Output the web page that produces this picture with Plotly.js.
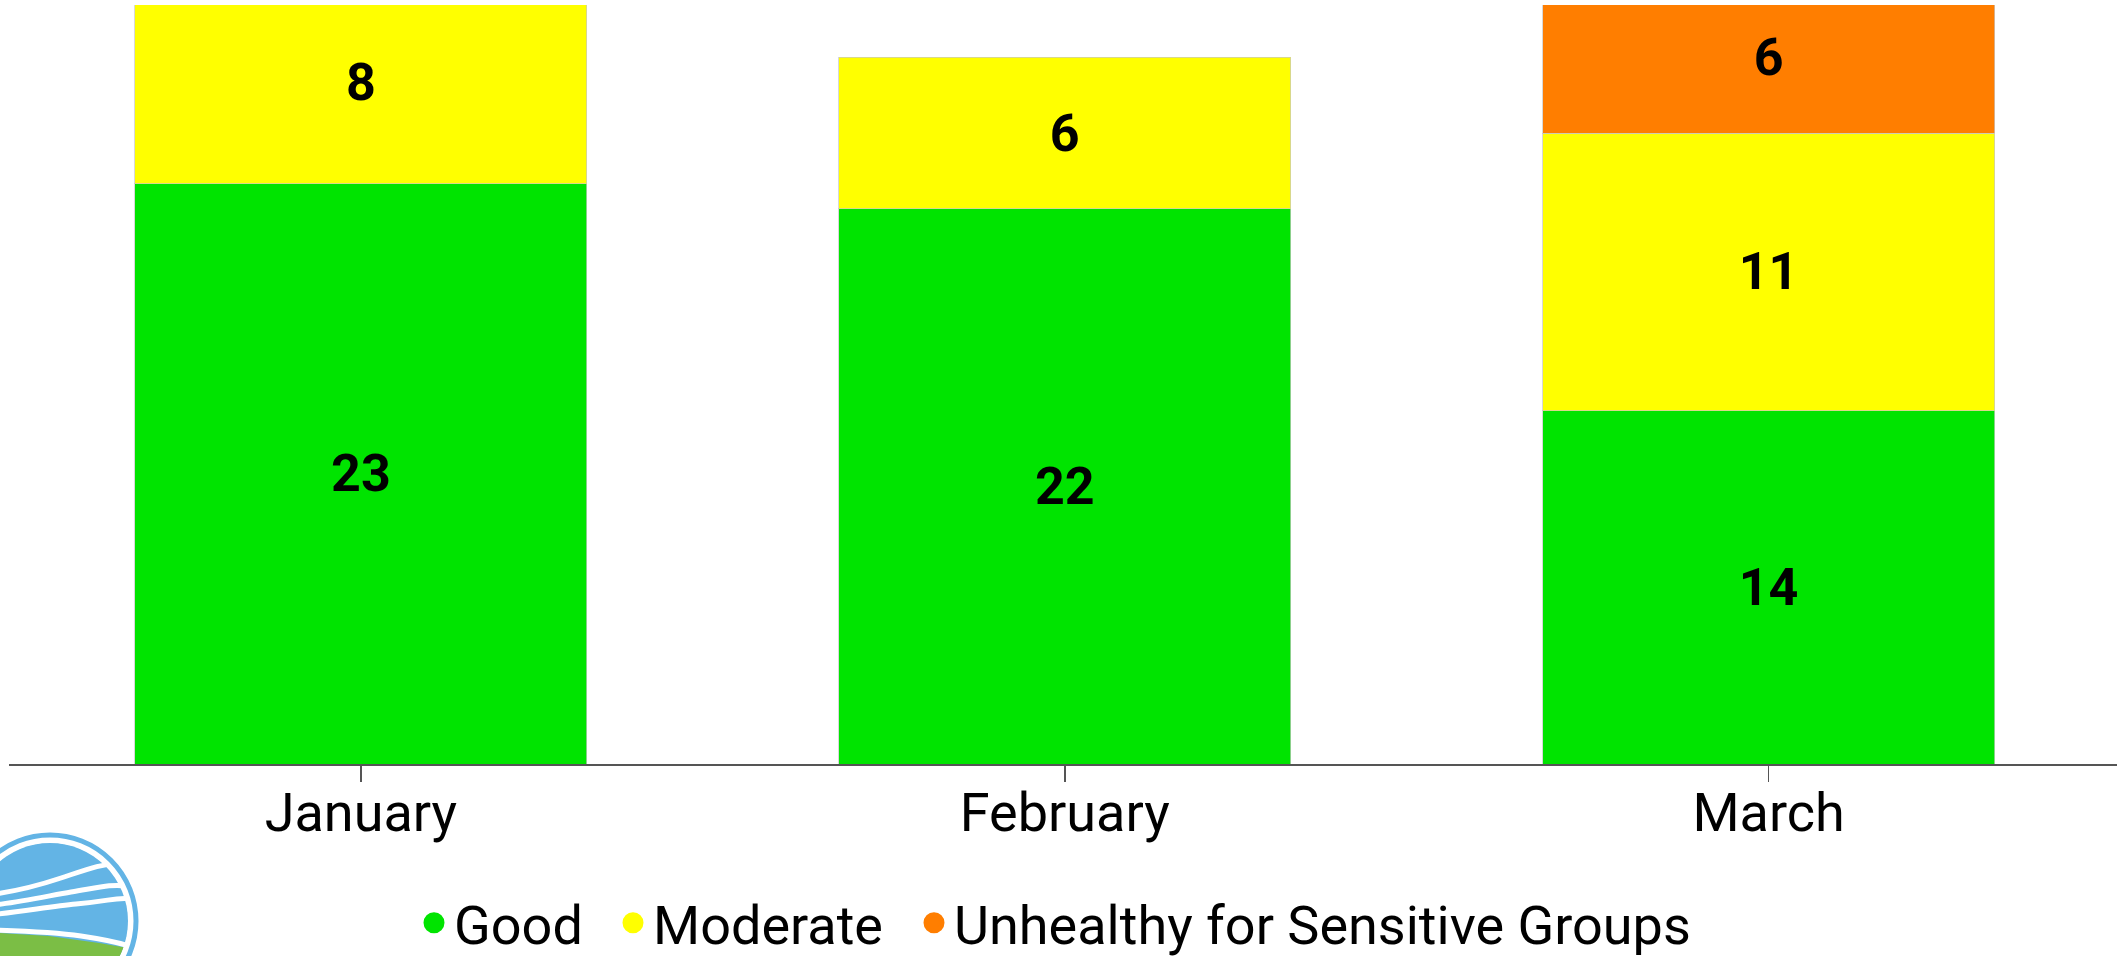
<!DOCTYPE html>
<html>
<head>
<meta charset="utf-8">
<script src="https://cdn.plot.ly/plotly-3.0.1.min.js"></script>
<style>
  html, body { margin: 0; padding: 0; background: #fff; overflow: hidden; }
  #chart { width: 2117px; height: 956px; }
</style>
</head>
<body>
<div id="chart"></div>
<script>
// ---- data ----
const months = ['January', 'February', 'March'];
const goodDays = [23, 22, 14];
const moderateDays = [8, 6, 11];
const usgDays = [null, null, 6];
const seriesNames = ['Good', 'Moderate', 'Unhealthy for Sensitive Groups'];
const seriesColors = ['#00E400', '#FFFF00', '#FF7E00'];

const seriesValues = [goodDays, moderateDays, usgDays];
const legendIds = ['legend', 'legend2', 'legend3'];

const traces = [];
seriesValues.forEach(function (vals, i) {
  traces.push({
    type: 'bar',
    x: months,
    y: vals,
    name: seriesNames[i],
    text: vals.map(function (v) { return v == null ? '' : String(v); }),
    textposition: 'inside',
    insidetextanchor: 'middle',
    constraintext: 'none',
    textangle: 0,
    textfont: { family: 'Roboto', size: 52, color: '#000', weight: 700 },
    marker: { color: seriesColors[i], line: { color: 'rgba(200,200,200,0.7)', width: 1 } },
    showlegend: false,
    hoverinfo: 'skip'
  });
});
// legend entries with round markers, one legend box per entry
seriesNames.forEach(function (n, i) {
  traces.push({
    type: 'scatter',
    mode: 'markers',
    x: [null],
    y: [null],
    name: n,
    legend: legendIds[i],
    marker: { color: seriesColors[i], size: 16, symbol: 'circle', line: { color: seriesColors[i], width: 5 } },
    showlegend: true,
    hoverinfo: 'skip'
  });
});

// ---- logo (decorative, drawn with pixel-sized shapes anchored at plot bottom-left) ----
const ML = 9;
const LB = '#63B4E5', LG = '#7BBE45';
function circlePts(cx, cy, r, a0, a1, n) {
  const pts = [];
  for (let k = 0; k <= n; k++) {
    const a = (a0 + (a1 - a0) * k / n) * Math.PI / 180;
    pts.push((cx + r * Math.cos(a)).toFixed(1) + ',' + (cy + r * Math.sin(a)).toFixed(1));
  }
  return pts;
}
const cx = 50 - ML, cy = -157;
function pshape(o) {
  return Object.assign({
    xref: 'paper', yref: 'paper', xsizemode: 'pixel', ysizemode: 'pixel',
    xanchor: 0, yanchor: 0, layer: 'above'
  }, o);
}
const dx = cx - 39;
function shiftPath(p) {
  return p.replace(/(-?\d+(?:\.\d+)?),(-?\d+(?:\.\d+)?)/g, function (m, a, b) {
    return (parseFloat(a) + dx) + ',' + b;
  });
}
const greenPath = 'M -60,-166 L -10,-169 L 40,-172 L 90,-179 L 113,-183 L ' +
  circlePts(cx, cy, 78, -19.6, -200, 40).join(' L ') + ' Z';
const shapes = [
  pshape({ type: 'circle', x0: cx - 78, x1: cx + 78, y0: cy - 78, y1: cy + 78, fillcolor: LB, line: { width: 0 } }),
  pshape({ type: 'path', path: greenPath, fillcolor: LG, line: { width: 0 } }),
  pshape({ type: 'path', path: shiftPath('M -60,-165 C -20,-166 30,-166 70,-172 S 110,-180 125,-184'), line: { color: '#fff', width: 5 } }),
  pshape({ type: 'path', path: shiftPath('M -60,-132 C -20,-134 20,-124 50,-114 S 90,-100 106,-100'), line: { color: '#fff', width: 5 } }),
  pshape({ type: 'path', path: shiftPath('M -60,-143 C -20,-145 30,-133 60,-128 S 100,-120 116,-122'), line: { color: '#fff', width: 5 } }),
  pshape({ type: 'path', path: shiftPath('M -60,-152 C -20,-154 30,-143 65,-140 S 105,-133 120,-135'), line: { color: '#fff', width: 5 } }),
  pshape({ type: 'circle', x0: cx - 81, x1: cx + 81, y0: cy - 81, y1: cy + 81, line: { color: '#fff', width: 5 } }),
  pshape({ type: 'circle', x0: cx - 86, x1: cx + 86, y0: cy - 86, y1: cy + 86, line: { color: LB, width: 5 } })
];

const plotW = 2117 - ML;
function legendBox(markerCenterPx) {
  return {
    orientation: 'h',
    x: (markerCenterPx - 20 - ML) / plotW,
    xanchor: 'left',
    y: -0.265,
    yanchor: 'bottom',
    traceorder: 'normal',
    font: { family: 'Roboto', size: 54, color: '#000' },
    bgcolor: 'rgba(0,0,0,0)',
    borderwidth: 0
  };
}

const layout = {
  width: 2117,
  height: 956,
  paper_bgcolor: '#ffffff',
  plot_bgcolor: '#ffffff',
  barmode: 'stack',
  bargap: 0.358,
  margin: { l: ML, r: 0, t: 5, b: 192, autoexpand: false },
  font: { family: 'Roboto', color: '#000' },
  xaxis: {
    type: 'category',
    range: [-0.5, 2.495],
    showline: true,
    linecolor: '#555',
    linewidth: 2,
    ticks: 'outside',
    ticklen: 16,
    tickwidth: 1.5,
    tickcolor: '#555',
    ticklabelstandoff: -16,
    tickfont: { family: 'Roboto', size: 54, color: '#000' },
    showgrid: false,
    zeroline: false,
    fixedrange: true
  },
  yaxis: {
    visible: false,
    range: [0, 30.08],
    showgrid: false,
    zeroline: false,
    fixedrange: true
  },
  showlegend: true,
  legend: legendBox(434),
  legend2: legendBox(633),
  legend3: legendBox(934),
  shapes: shapes
};

Plotly.newPlot('chart', traces, layout, { displayModeBar: false, staticPlot: true });
</script>
</body>
</html>
